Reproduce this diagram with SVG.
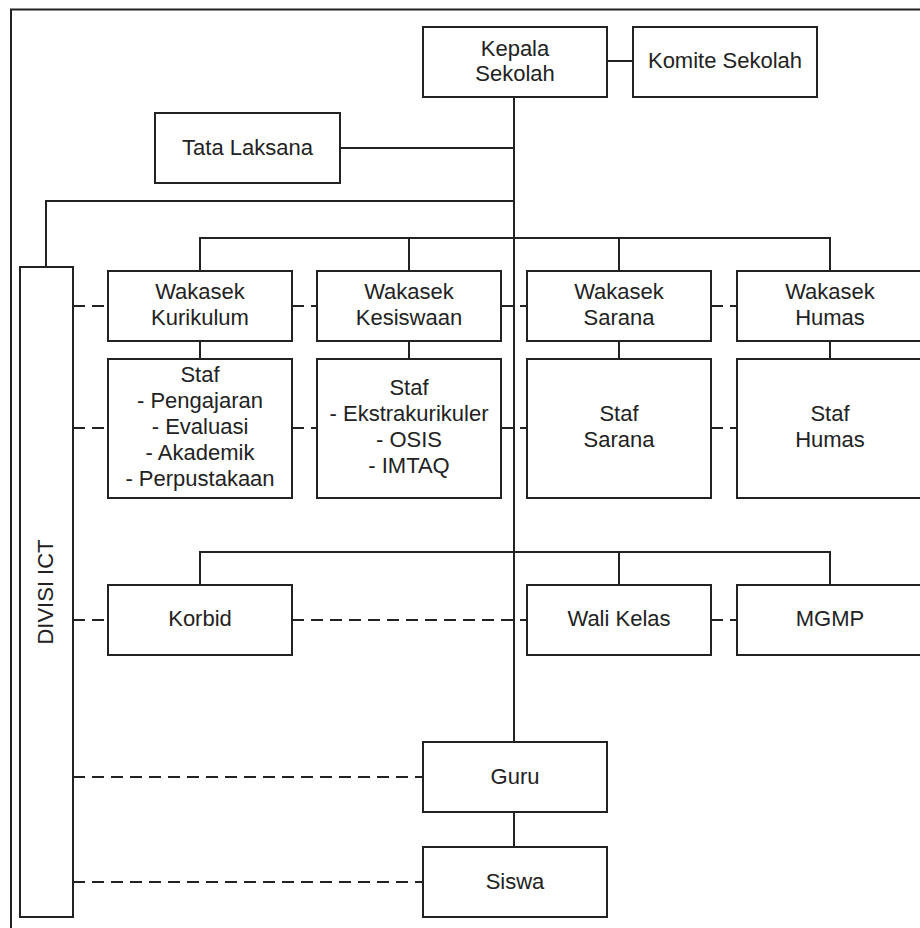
<svg xmlns="http://www.w3.org/2000/svg" width="920" height="928" viewBox="0 0 920 928">
<style>
.box{fill:#fff;stroke:#222;stroke-width:2}
.t{font-family:"Liberation Sans",Arial,sans-serif;font-size:22px;fill:#222;text-anchor:middle}
.ln{fill:none;stroke:#222;stroke-width:2}
.dl{fill:none;stroke:#222;stroke-width:2;stroke-dasharray:12 7}
</style>
<rect x="0" y="0" width="920" height="928" fill="#fff"/>
<rect x="11" y="9.5" width="930" height="940" fill="none" stroke="#222" stroke-width="2"/>
<g id="connectors">
<path class="ln" d="M514,97 V742 M514,812 V847"/>
<path class="ln" d="M607,61 H633"/>
<path class="ln" d="M340,148 H514"/>
<path class="ln" d="M514,201 H46 V267"/>
<path class="ln" d="M200,271 V238 H830 V271 M409,238 V271 M619,238 V271"/>
<path class="ln" d="M200,341 V359 M409,341 V359 M619,341 V359 M830,341 V359"/>
<path class="ln" d="M200,585 V552 H830 V585 M619,552 V585"/>
<path class="dl" d="M73,306 H108 M292,306 H317 M501,306 H527 M711,306 H737"/>
<path class="dl" d="M73,428 H108 M292,428 H317 M501,428 H527 M711,428 H737"/>
<path class="dl" d="M73,620 H108 M292,620 H527 M711,620 H737"/>
<path class="dl" d="M73,777 H423 M73,882 H423"/>
</g>
<g id="kepala"><rect class="box" x="423" y="27" width="184" height="70"/><text class="t" x="515" y="55.5">Kepala</text><text class="t" x="515" y="81">Sekolah</text></g>
<g id="komite"><rect class="box" x="633" y="27" width="184" height="70"/><text class="t" x="725" y="68">Komite Sekolah</text></g>
<g id="tata"><rect class="box" x="155" y="113" width="185" height="70"/><text class="t" x="247.5" y="155">Tata Laksana</text></g>
<g id="ict"><rect class="box" x="20" y="267" width="53" height="650"/><text class="t" transform="translate(53,592) rotate(-90)" x="0" y="0">DIVISI ICT</text></g>
<g id="wk-kurikulum"><rect class="box" x="108" y="271" width="184" height="70"/><text class="t" x="200" y="298.5">Wakasek</text><text class="t" x="200" y="324.5">Kurikulum</text></g>
<g id="wk-kesiswaan"><rect class="box" x="317" y="271" width="184" height="70"/><text class="t" x="409" y="298.5">Wakasek</text><text class="t" x="409" y="324.5">Kesiswaan</text></g>
<g id="wk-sarana"><rect class="box" x="527" y="271" width="184" height="70"/><text class="t" x="619" y="298.5">Wakasek</text><text class="t" x="619" y="324.5">Sarana</text></g>
<g id="wk-humas"><rect class="box" x="737" y="271" width="184" height="70"/><text class="t" x="830" y="298.5">Wakasek</text><text class="t" x="830" y="324.5">Humas</text></g>
<g id="staf-kurikulum"><rect class="box" x="108" y="359" width="184" height="139"/><text class="t" x="200" y="382">Staf</text><text class="t" x="200" y="408">- Pengajaran</text><text class="t" x="200" y="434">- Evaluasi</text><text class="t" x="200" y="460">- Akademik</text><text class="t" x="200" y="486">- Perpustakaan</text></g>
<g id="staf-kesiswaan"><rect class="box" x="317" y="359" width="184" height="139"/><text class="t" x="409" y="394.5">Staf</text><text class="t" x="409" y="420.5">- Ekstrakurikuler</text><text class="t" x="409" y="446.5">- OSIS</text><text class="t" x="409" y="472.5">- IMTAQ</text></g>
<g id="staf-sarana"><rect class="box" x="527" y="359" width="184" height="139"/><text class="t" x="619" y="421">Staf</text><text class="t" x="619" y="447">Sarana</text></g>
<g id="staf-humas"><rect class="box" x="737" y="359" width="184" height="139"/><text class="t" x="830" y="421">Staf</text><text class="t" x="830" y="447">Humas</text></g>
<g id="korbid"><rect class="box" x="108" y="585" width="184" height="70"/><text class="t" x="200" y="625.5">Korbid</text></g>
<g id="walikelas"><rect class="box" x="527" y="585" width="184" height="70"/><text class="t" x="619" y="625.5">Wali Kelas</text></g>
<g id="mgmp"><rect class="box" x="737" y="585" width="184" height="70"/><text class="t" x="830" y="625.5">MGMP</text></g>
<g id="guru"><rect class="box" x="423" y="742" width="184" height="70"/><text class="t" x="515" y="784">Guru</text></g>
<g id="siswa"><rect class="box" x="423" y="847" width="184" height="70"/><text class="t" x="515" y="889">Siswa</text></g>
</svg>
